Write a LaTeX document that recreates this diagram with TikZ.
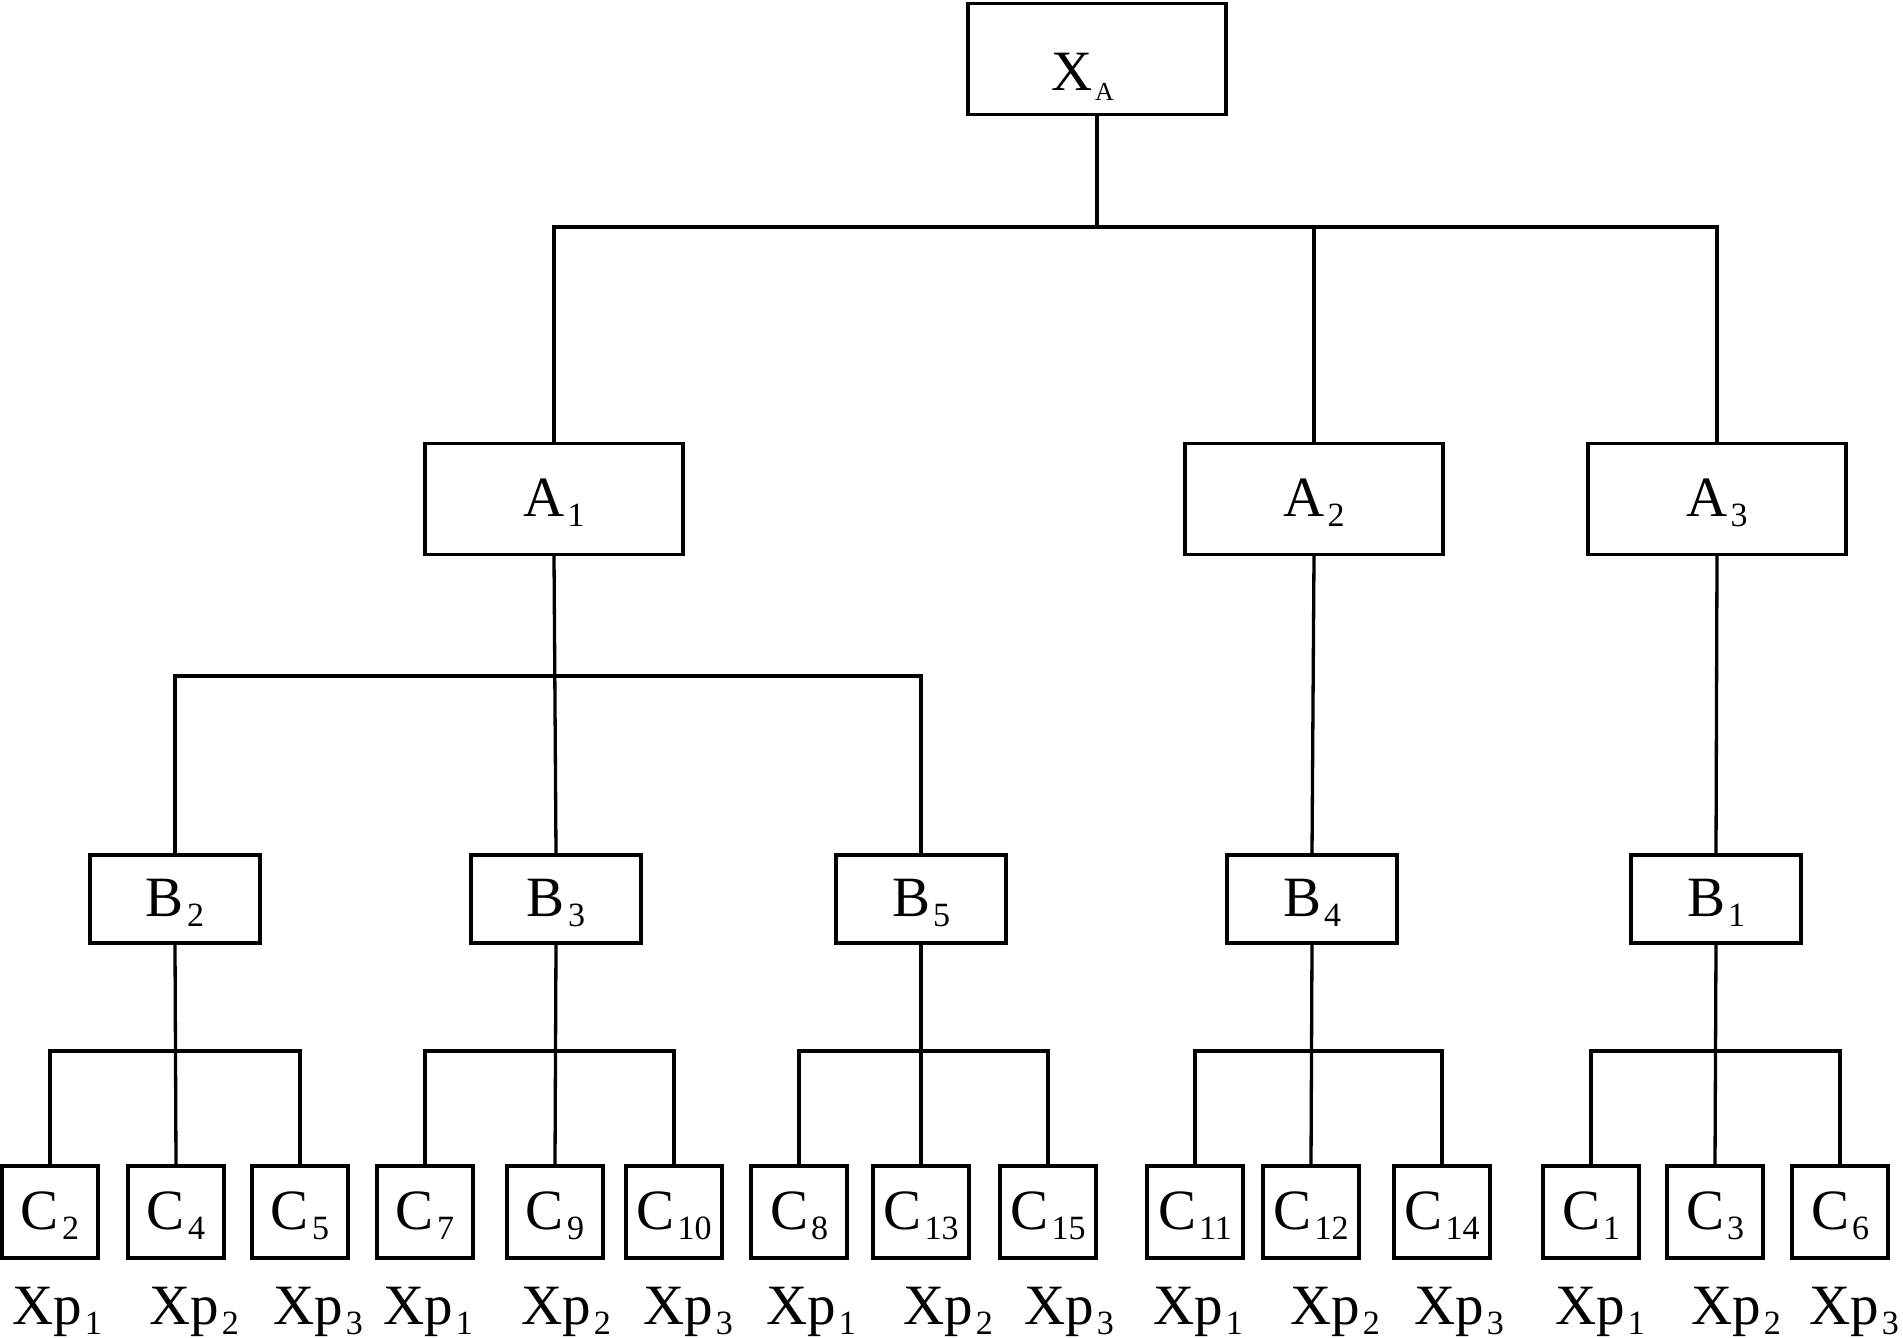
\documentclass[tikz,border=0pt]{standalone}
\usepackage{fontspec}
\setmainfont{Liberation Serif}
\newcommand\sbs[2][34]{\kern3pt\raisebox{-10pt}{\fontsize{#1}{#1}\selectfont #2}}
\begin{document}
\begin{tikzpicture}[x=1pt,y=-1pt, line width=3.3pt, font=\fontsize{57}{60}\selectfont,
  box/.style={draw, rectangle, inner sep=0pt, text height=44pt, text depth=10pt},
  abox/.style={box, minimum width=258pt, minimum height=111pt},
  bbox/.style={box, minimum width=170pt, minimum height=88pt},
  cbox/.style={box, minimum width=96pt, minimum height=92pt},
  lbl/.style={inner sep=0pt, anchor=base}]
\useasboundingbox (0,0) rectangle (1903,1338);
\coordinate (bar1) at (0,227);
\coordinate (bar2) at (0,676);
\coordinate (bar3) at (0,1051);
% top
\node[abox, text height=67pt, text depth=4pt] (XA) at (1097,59) {X\sbs[26]{A}\kern29pt};
% level A
\node[abox] (A1) at (554,499) {A\sbs{1}};
\node[abox] (A2) at (1314,499) {A\sbs{2}};
\node[abox] (A3) at (1717,499) {A\sbs{3}};
% level B
\node[bbox] (B2) at (175,899) {B\sbs{2}};
\node[bbox] (B3) at (556,899) {B\sbs{3}};
\node[bbox] (B5) at (921,899) {B\sbs{5}};
\node[bbox] (B4) at (1312,899) {B\sbs{4}};
\node[bbox] (B1) at (1716,899) {B\sbs{1}};
% level C
\node[cbox] (C2) at (50,1212) {C\sbs{2}};
\node[cbox] (C4) at (176,1212) {C\sbs{4}};
\node[cbox] (C5) at (300,1212) {C\sbs{5}};
\node[cbox] (C7) at (425,1212) {C\sbs{7}};
\node[cbox] (C9) at (555,1212) {C\sbs{9}};
\node[cbox] (C10) at (674,1212) {C\sbs{10}};
\node[cbox] (C8) at (799,1212) {C\sbs{8}};
\node[cbox] (C13) at (921,1212) {C\sbs{13}};
\node[cbox] (C15) at (1048,1212) {C\sbs{15}};
\node[cbox] (C11) at (1195,1212) {C\sbs{11}};
\node[cbox] (C12) at (1311,1212) {C\sbs{12}};
\node[cbox] (C14) at (1442,1212) {C\sbs{14}};
\node[cbox] (C1) at (1591,1212) {C\sbs{1}};
\node[cbox] (C3) at (1715,1212) {C\sbs{3}};
\node[cbox] (C6) at (1840,1212) {C\sbs{6}};
% labels
\node[lbl] (L1) at (57,1324) {Xp\sbs{1}};
\node[lbl] (L2) at (194,1324) {Xp\sbs{2}};
\node[lbl] (L3) at (318,1324) {Xp\sbs{3}};
\node[lbl] (L4) at (428,1324) {Xp\sbs{1}};
\node[lbl] (L5) at (566,1324) {Xp\sbs{2}};
\node[lbl] (L6) at (688,1324) {Xp\sbs{3}};
\node[lbl] (L7) at (811,1324) {Xp\sbs{1}};
\node[lbl] (L8) at (948,1324) {Xp\sbs{2}};
\node[lbl] (L9) at (1069,1324) {Xp\sbs{3}};
\node[lbl] (L10) at (1198,1324) {Xp\sbs{1}};
\node[lbl] (L11) at (1335,1324) {Xp\sbs{2}};
\node[lbl] (L12) at (1459,1324) {Xp\sbs{3}};
\node[lbl] (L13) at (1600,1324) {Xp\sbs{1}};
\node[lbl] (L14) at (1736,1324) {Xp\sbs{2}};
\node[lbl] (L15) at (1854,1324) {Xp\sbs{3}};
% connectors top
\draw (XA.south) -- (XA.south |- bar1);
\draw (A1.north) -- (A1.north |- bar1) -- (A3.north |- bar1) -- (A3.north);
\draw (A2.north) -- (A2.north |- bar1);
% connectors A -> B
\draw (B2.north) -- (B2.north |- bar2) -- (B5.north |- bar2) -- (B5.north);
\draw (A1.south) -- (B3.north);
\draw (A2.south) -- (B4.north);
\draw (A3.south) -- (B1.north);
% connectors B -> C
\draw (C2.north) -- (C2.north |- bar3) -- (C5.north |- bar3) -- (C5.north);
\draw (B2.south) -- (C4.north);
\draw (C7.north) -- (C7.north |- bar3) -- (C10.north |- bar3) -- (C10.north);
\draw (B3.south) -- (C9.north);
\draw (C8.north) -- (C8.north |- bar3) -- (C15.north |- bar3) -- (C15.north);
\draw (B5.south) -- (C13.north);
\draw (C11.north) -- (C11.north |- bar3) -- (C14.north |- bar3) -- (C14.north);
\draw (B4.south) -- (C12.north);
\draw (C1.north) -- (C1.north |- bar3) -- (C6.north |- bar3) -- (C6.north);
\draw (B1.south) -- (C3.north);
\end{tikzpicture}
\end{document}
